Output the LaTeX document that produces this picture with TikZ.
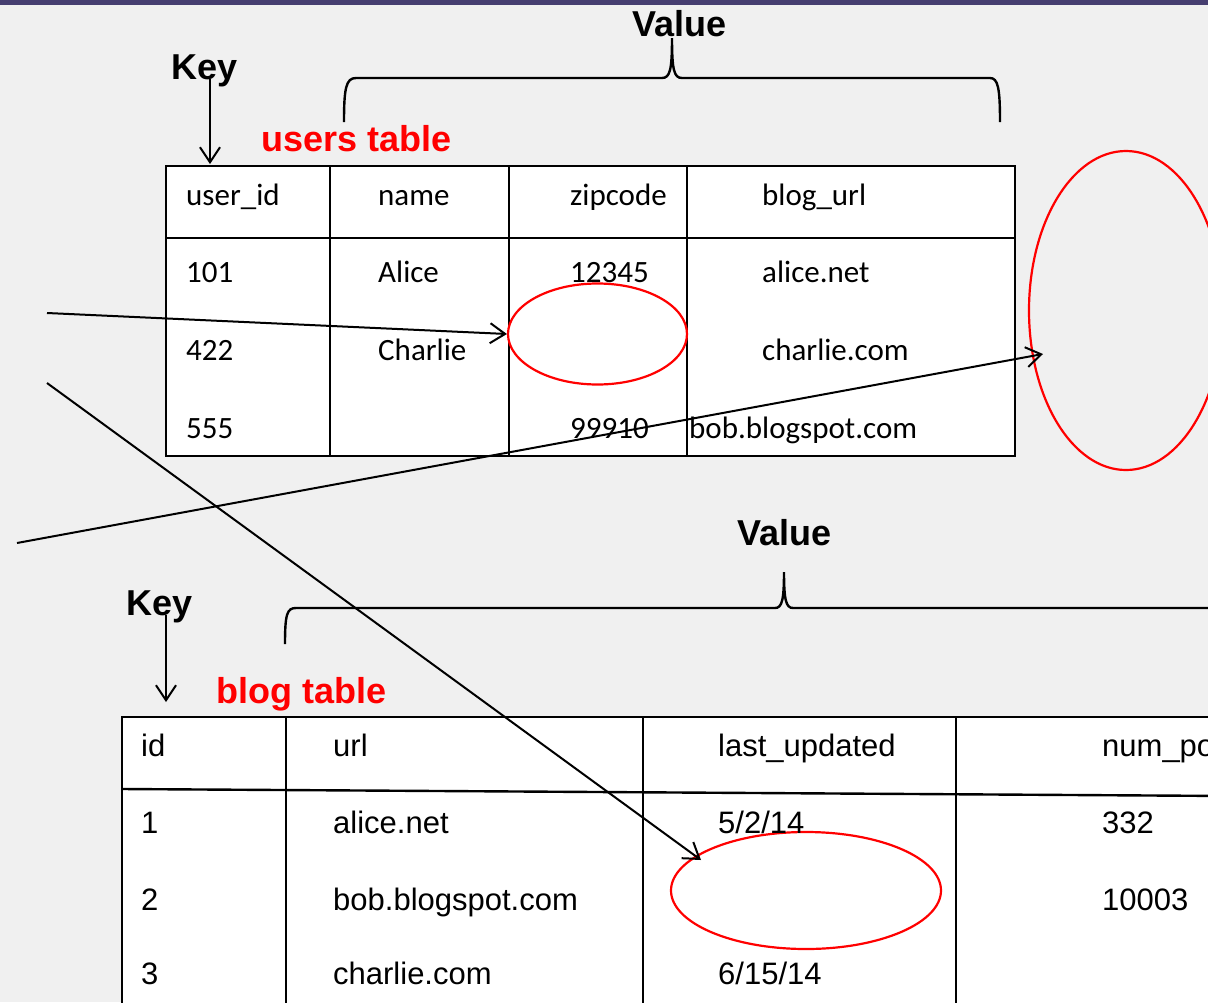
\documentclass[tikz,border=0pt]{standalone}
\usepackage{fontspec}
\setmainfont{Liberation Sans}
\newfontfamily\calibrifont{Carlito}
\usetikzlibrary{arrows.meta,shapes.geometric}
\definecolor{bgc}{HTML}{F0F0F0}
\definecolor{barc}{HTML}{463E70}
\definecolor{redc}{HTML}{FF0000}
\begin{document}
\begin{tikzpicture}[x=1pt,y=-1pt,
  tline/.style={line width=2.4pt,black},
  conn/.style={line width=2pt,-{Straight Barb[length=15pt,width=20pt,line width=2pt]}},
  bracepath/.style={line width=2.4pt,black},
  caltext/.style={font=\calibrifont\fontsize{31}{36}\selectfont, anchor=base west, inner sep=0pt},
  heltext/.style={font=\fontsize{31}{36}\selectfont, anchor=base west, inner sep=0pt},
  lbl/.style={font=\bfseries\fontsize{36}{40}\selectfont, anchor=base west, inner sep=0pt},
  redlbl/.style={lbl, text=redc},
  oval/.style={ellipse, draw=redc, line width=2.2pt, inner sep=0pt}]
\useasboundingbox (0,0) rectangle (1208,1002);
\clip (0,0) rectangle (1208,1002);
\fill[bgc] (0,0) rectangle (1208,1002);
\fill[barc] (0,0) rectangle (1208,5);

% users table
\draw[tline, fill=white] (166,166) rectangle (1015,456);
\draw[tline] (166,238) -- (1015,238);
\foreach \x in {330,509,687} \draw[tline] (\x,166) -- (\x,456);

% blog table
\draw[tline, fill=white] (122,717) rectangle (1230,1020);
\draw[tline] (122,789) -- (1230,796);
\foreach \x in {286,643,956} \draw[tline] (\x,717) -- (\x,1020);

% ellipses
\node[oval, fill=white, minimum width=179pt, minimum height=101pt] (ez) at (597.5,334) {};
\node[oval, minimum width=194pt, minimum height=319pt] (eb) at (1126,310.5) {};
\node[oval, fill=white, minimum width=270pt, minimum height=117pt] (el) at (806,890.5) {};

% users table text
\node[caltext] (u11) at (186,205) {user\_id};
\node[caltext] (u12) at (378,205) {name};
\node[caltext] (u13) at (570,205) {zipcode};
\node[caltext] (u14) at (762,205) {blog\_url};
\node[caltext] (u21) at (186,282) {101};
\node[caltext] (u22) at (378,282) {Alice};
\node[caltext] (u23) at (570,282) {12345};
\node[caltext] (u24) at (762,282) {alice.net};
\node[caltext] (u31) at (186,360) {422};
\node[caltext] (u32) at (378,360) {Charlie};
\node[caltext] (u34) at (762,360) {charlie.com};
\node[caltext] (u41) at (186,438) {555};
\node[caltext] (u43) at (570,438) {99910};
\node[caltext] (u44) at (689,438) {bob.blogspot.com};

% blog table text
\node[heltext] (b11) at (141,756) {id};
\node[heltext] (b12) at (333,756) {url};
\node[heltext] (b13) at (718,756) {last\_updated};
\node[heltext] (b14) at (1102,756) {num\_posts};
\node[heltext] (b21) at (141,833) {1};
\node[heltext] (b22) at (333,833) {alice.net};
\node[heltext] (b23) at (718,833) {5/2/14};
\node[heltext] (b24) at (1102,833) {332};
\node[heltext] (b31) at (141,910) {2};
\node[heltext] (b32) at (333,910) {bob.blogspot.com};
\node[heltext] (b34) at (1102,910) {10003};
\node[heltext] (b41) at (141,984) {3};
\node[heltext] (b42) at (333,984) {charlie.com};
\node[heltext] (b43) at (718,984) {6/15/14};

% labels
\node[lbl] (v1) at (632,36) {Value};
\node[lbl] (k1) at (171,79) {Key};
\node[redlbl] (t1) at (261,151) {users table};
\node[lbl] (v2) at (737,545) {Value};
\node[lbl] (k2) at (126,615) {Key};
\node[redlbl] (t2) at (216,703) {blog table};

% braces
\draw[bracepath] (344,122) .. controls (344,88) and (346,78) .. (356,78) -- (662,78)
  .. controls (670,78) and (672,70) .. (672,38) .. controls (672,70) and (674,78) .. (682,78)
  -- (990,78) .. controls (998,78) and (1000,88) .. (1000,122);
\draw[bracepath] (285,644) .. controls (285,614) and (287,608) .. (296,608) -- (775,608)
  .. controls (782,608) and (784,600) .. (784,572) .. controls (784,600) and (786,608) .. (793,608)
  -- (1215,608);

% key arrows
\coordinate (k1e) at (210,164);
\coordinate (k2e) at (166,702);
\draw[conn] (k1e |- k1.base) -- (k1e);
\draw[conn] (k2e |- k2.base) -- (k2e);

% connectors
\coordinate (a1s) at (47,313);
\coordinate (a2s) at (17,543);
\coordinate (a2e) at (1043,354);
\coordinate (a3s) at (47,383);
\coordinate (a3e) at (701,860);
\draw[conn] (a1s) -- (ez.west);
\draw[conn] (a2s) -- (a2e);
\draw[conn] (a3s) -- (a3e);
\end{tikzpicture}
\end{document}
